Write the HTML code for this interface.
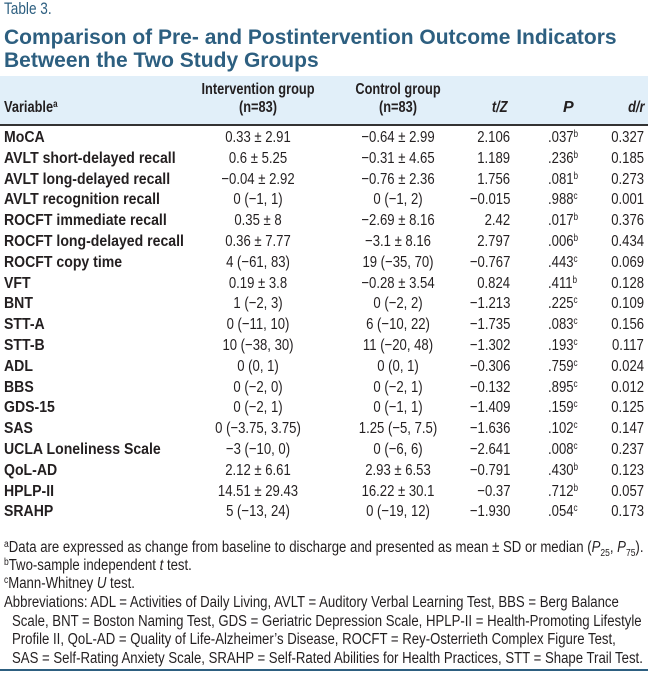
<!DOCTYPE html>
<html><head><meta charset="utf-8"><style>
body{margin:0;width:648px;height:673px;background:#fff;font-family:"Liberation Sans",sans-serif;color:#231f20;position:relative;overflow:hidden}
.a{position:absolute;white-space:nowrap}
.t{font-size:17px;color:#2d5f80;left:4px;top:-1px;transform:scaleX(.8);transform-origin:left}
.h{font-weight:bold;font-size:21px;color:#2d5f80;left:4px;transform:scaleX(1);transform-origin:left}
#hdr{position:absolute;left:0;top:76px;width:648px;height:48px;background:#e1eff9;border-bottom:2px solid #333}
.r{position:absolute;left:0;width:648px;height:20px;font-size:16px}
.r span{position:absolute;top:0}
.v{left:4px;font-weight:bold;transform:scaleX(.88);transform-origin:left}
.c1{left:258px;transform:translateX(-50%) scaleX(.82)}
.c2{left:398px;transform:translateX(-50%) scaleX(.82)}
.c3{right:138px;transform:scaleX(.82);transform-origin:right}
.c4{left:548px;transform:scaleX(.82);transform-origin:left}
.c5{right:4px;transform:scaleX(.82);transform-origin:right}
sup{font-size:10px;vertical-align:5px;line-height:0}
.hd{font-weight:bold;font-size:16px;text-align:center;line-height:18px}
.f{font-size:15.5px;left:4px;transform:scaleX(.85);transform-origin:left}
</style></head><body>
<div class="a t">Table 3.</div>
<div class="a h" style="top:26px">Comparison of Pre- and Postintervention Outcome Indicators</div>
<div class="a h" style="top:49px">Between the Two Study Groups</div>
<div id="hdr">
<div class="a hd" style="left:4px;top:23px;transform:scaleX(.8);transform-origin:left">Variable<sup>a</sup></div>
<div class="a hd" style="left:258px;top:5px;transform:translateX(-50%) scaleX(.8)">Intervention group<br>(n=83)</div>
<div class="a hd" style="left:398px;top:5px;transform:translateX(-50%) scaleX(.8)">Control group<br>(n=83)</div>
<div class="a hd" style="right:140px;top:23px;font-style:italic;transform:scaleX(.8);transform-origin:right">t/Z</div>
<div class="a hd" style="left:563px;top:23px;font-style:italic">P</div>
<div class="a hd" style="right:4px;top:23px;font-style:italic;transform:scaleX(.8);transform-origin:right">d/r</div>
</div>
<div id="rows"></div>
<div class="a f" style="top:539px"><sup>a</sup>Data are expressed as change from baseline to discharge and presented as mean ± SD or median (<i>P</i><sub style="font-size:10px">25</sub>, <i>P</i><sub style="font-size:10px">75</sub>).</div>
<div class="a f" style="top:557px"><sup>b</sup>Two-sample independent <i>t</i> test.</div>
<div class="a f" style="top:575px"><sup>c</sup>Mann-Whitney <i>U</i> test.</div>
<div class="a f" style="top:594px">Abbreviations: ADL = Activities of Daily Living, AVLT = Auditory Verbal Learning Test, BBS = Berg Balance</div>
<div class="a f" style="top:612.5px;left:12px">Scale, BNT = Boston Naming Test, GDS = Geriatric Depression Scale, HPLP-II = Health-Promoting Lifestyle</div>
<div class="a f" style="top:631px;left:12px">Profile II, QoL-AD = Quality of Life-Alzheimer’s Disease, ROCFT = Rey-Osterrieth Complex Figure Test,</div>
<div class="a f" style="top:649.5px;left:12px">SAS = Self-Rating Anxiety Scale, SRAHP = Self-Rated Abilities for Health Practices, STT = Shape Trail Test.</div>
<div class="a" style="left:0;top:669px;width:648px;height:2px;background:#2d5f80"></div>
<script>
const variables=["MoCA","AVLT short-delayed recall","AVLT long-delayed recall","AVLT recognition recall","ROCFT immediate recall","ROCFT long-delayed recall","ROCFT copy time","VFT","BNT","STT-A","STT-B","ADL","BBS","GDS-15","SAS","UCLA Loneliness Scale","QoL-AD","HPLP-II","SRAHP"];
const intervention=["0.33 ± 2.91","0.6 ± 5.25","−0.04 ± 2.92","0 (−1, 1)","0.35 ± 8","0.36 ± 7.77","4 (−61, 83)","0.19 ± 3.8","1 (−2, 3)","0 (−11, 10)","10 (−38, 30)","0 (0, 1)","0 (−2, 0)","0 (−2, 1)","0 (−3.75, 3.75)","−3 (−10, 0)","2.12 ± 6.61","14.51 ± 29.43","5 (−13, 24)"];
const control=["−0.64 ± 2.99","−0.31 ± 4.65","−0.76 ± 2.36","0 (−1, 2)","−2.69 ± 8.16","−3.1 ± 8.16","19 (−35, 70)","−0.28 ± 3.54","0 (−2, 2)","6 (−10, 22)","11 (−20, 48)","0 (0, 1)","0 (−2, 1)","0 (−1, 1)","1.25 (−5, 7.5)","0 (−6, 6)","2.93 ± 6.53","16.22 ± 30.1","0 (−19, 12)"];
const tz=["2.106","1.189","1.756","−0.015","2.42","2.797","−0.767","0.824","−1.213","−1.735","−1.302","−0.306","−0.132","−1.409","−1.636","−2.641","−0.791","−0.37","−1.930"];
const pvals=[".037",".236",".081",".988",".017",".006",".443",".411",".225",".083",".193",".759",".895",".159",".102",".008",".430",".712",".054"];
const ptest=["b","b","b","c","b","b","c","b","c","c","c","c","c","c","c","c","b","b","c"];
const dr=["0.327","0.185","0.273","0.001","0.376","0.434","0.069","0.128","0.109","0.156","0.117","0.024","0.012","0.125","0.147","0.237","0.123","0.057","0.173"];
const rows=document.getElementById('rows');
variables.forEach((v,i)=>{
 const r=document.createElement('div');r.className='r';r.style.top=(129+i*20.8)+'px';
 
 
 r.innerHTML='<span class="v">'+v+'</span><span class="c1">'+intervention[i]+'</span><span class="c2">'+control[i]+'</span><span class="c3">'+tz[i]+'</span><span class="c4">'+pvals[i]+'<sup>'+ptest[i]+'</sup></span><span class="c5">'+dr[i]+'</span>';
 rows.appendChild(r);
});
</script>
</body></html>
